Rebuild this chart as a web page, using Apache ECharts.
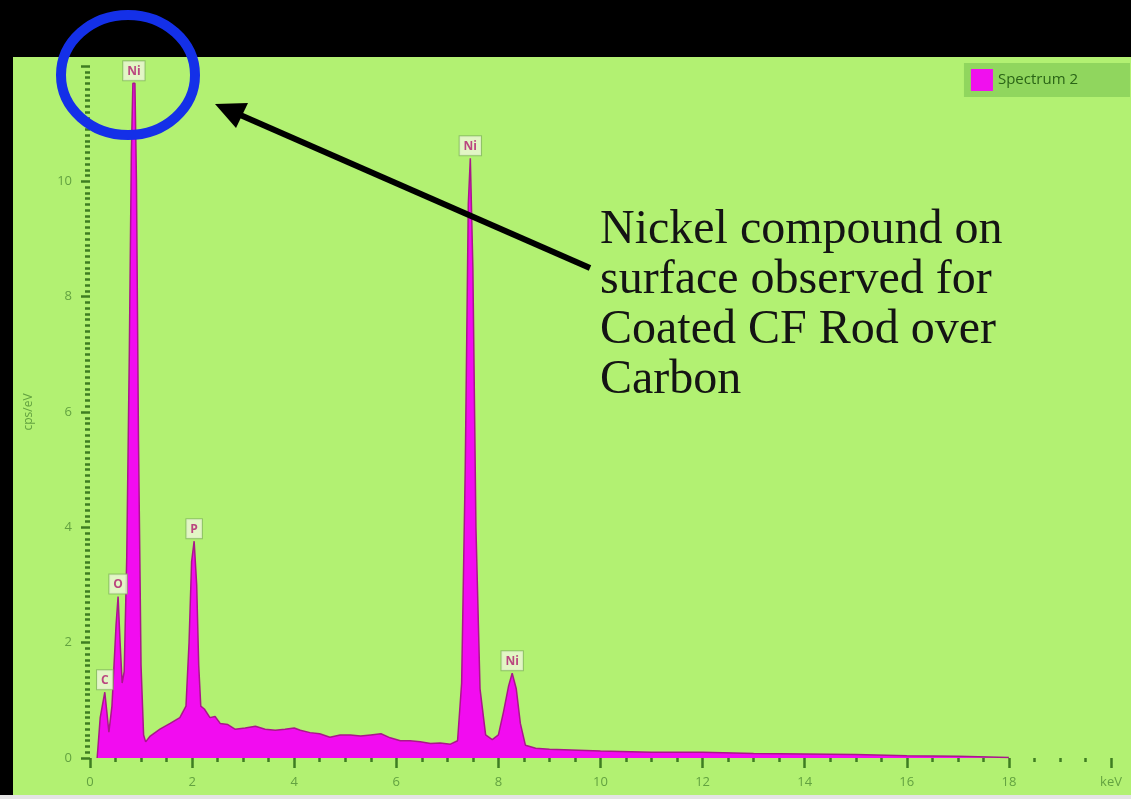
<!DOCTYPE html>
<html>
<head>
<meta charset="utf-8">
<script src="https://cdn.jsdelivr.net/npm/echarts@6/dist/echarts.min.js"></script>
<style>
  html, body { margin: 0; padding: 0; background: #e8e8e8; }
  #spectrum { width: 1131px; height: 799px; }
</style>
</head>
<body>
<div id="spectrum"></div>
<script>
// spectrum: energy (keV) and counts (cps/eV)
var energyKeV = [0.14, 0.2, 0.24, 0.29, 0.33, 0.37, 0.43, 0.51, 0.55, 0.59, 0.63, 0.67, 0.72, 0.77, 0.81, 0.84, 0.88, 0.91, 0.95, 1.0, 1.05, 1.09,
  1.18, 1.37, 1.57, 1.76, 1.88, 1.94, 1.99, 2.04, 2.09, 2.13, 2.17, 2.24, 2.35, 2.45, 2.55, 2.7, 2.84, 3.04, 3.24, 3.43,
  3.63, 3.82, 4.0, 4.12, 4.31, 4.5, 4.7, 4.9, 5.1, 5.3, 5.5, 5.7, 5.88, 6.08, 6.27, 6.47, 6.67, 6.86, 7.06, 7.2,
  7.28, 7.35, 7.41, 7.45, 7.5, 7.56, 7.64, 7.75, 7.88, 8.0, 8.1, 8.2, 8.27, 8.35, 8.43, 8.53, 8.73, 9.0, 10, 11, 12,
  13, 14, 15, 16, 17, 18];
var countsCps = [0, 0.7, 0.9, 1.14, 0.8, 0.45, 0.9, 2.3, 2.8, 2.0, 1.3, 1.5, 3.5, 7, 10.5, 11.7, 11.7, 10, 5.5, 1.6, 0.4, 0.28,
  0.38, 0.5, 0.6, 0.7, 0.9, 2, 3.4, 3.76, 3.0, 1.6, 0.9, 0.85, 0.7, 0.72, 0.6, 0.58, 0.5, 0.52, 0.55, 0.5,
  0.48, 0.5, 0.52, 0.48, 0.44, 0.42, 0.36, 0.4, 0.4, 0.38, 0.4, 0.42, 0.35, 0.3, 0.3, 0.28, 0.25, 0.26, 0.24, 0.3,
  1.3, 5, 9.6, 10.4, 8.5, 4, 1.2, 0.4, 0.32, 0.4, 0.8, 1.25, 1.47, 1.2, 0.6, 0.22, 0.17, 0.15, 0.12, 0.1, 0.1,
  0.08, 0.07, 0.06, 0.04, 0.03, 0.01];

// element labels on the peaks
var peakNames = ['C', 'O', 'Ni', 'P', 'Ni', 'Ni'];
var peakKeV = [0.29, 0.55, 0.86, 2.04, 7.45, 8.27];
var peakCps = [1.14, 2.8, 11.7, 3.76, 10.4, 1.47];

var xTicks = [0, 2, 4, 6, 8, 10, 12, 14, 16, 18, 20];
var yTicks = [0, 2, 4, 6, 8, 10, 12];

var note = ['Nickel compound on', 'surface observed for', 'Coated CF Rod over', 'Carbon'];

var spectrumData = [];
for (var i = 0; i < energyKeV.length; i++) {
  spectrumData.push([energyKeV[i], countsCps[i]]);
}
var peakData = [];
for (var j = 0; j < peakNames.length; j++) {
  peakData.push({ value: [peakKeV[j], peakCps[j]], name: peakNames[j] });
}

var axisGreen = '#3f7d22';
var labelGreen = '#63a240';

var myChart = echarts.init(document.getElementById('spectrum'));
myChart.setOption({
  backgroundColor: '#b2f172',
  animation: false,
  textStyle: { fontFamily: 'Open Sans' },
  grid: { left: 90, right: 20, top: 66, bottom: 41 },
  legend: {
    right: 1,
    top: 63,
    data: [{ name: 'Spectrum 2', icon: 'rect' }],
    backgroundColor: '#90d65e',
    padding: [6, 52, 6, 7],
    itemWidth: 22,
    itemHeight: 22,
    itemGap: 6,
    textStyle: { color: '#2a6416', fontSize: 15 }
  },
  xAxis: {
    type: 'value',
    min: xTicks[0],
    max: xTicks[xTicks.length - 1],
    interval: 2,
    offset: 3,
    axisLine: { show: false },
    axisTick: { show: true, length: 10, lineStyle: { color: axisGreen, width: 2.5 } },
    minorTick: { show: true, splitNumber: 4, length: 4, lineStyle: { color: axisGreen, width: 2.5 } },
    splitLine: { show: false },
    axisLabel: {
      color: labelGreen,
      fontSize: 13,
      margin: 15,
      formatter: function (v) { return v === 20 ? 'keV' : String(v); }
    }
  },
  yAxis: {
    type: 'value',
    min: yTicks[0],
    max: yTicks[yTicks.length - 1],
    interval: 2,
    offset: 3,
    name: 'cps/eV',
    nameLocation: 'middle',
    nameGap: 52,
    nameTextStyle: { color: labelGreen, fontSize: 12 },
    axisLine: { show: false },
    axisTick: { show: true, length: 9, lineStyle: { color: axisGreen, width: 2.5 } },
    minorTick: { show: true, splitNumber: 20, length: 5, lineStyle: { color: axisGreen, width: 2.5 } },
    splitLine: { show: false },
    axisLabel: {
      color: labelGreen,
      fontSize: 13,
      margin: 15,
      formatter: function (v) { return v === 12 ? '' : String(v); }
    }
  },
  series: [
    {
      name: 'Spectrum 2',
      type: 'line',
      data: spectrumData,
      showSymbol: false,
      itemStyle: { color: '#f010ee' },
      lineStyle: { color: '#a8188a', width: 1.5 },
      areaStyle: { color: '#f20cf0', opacity: 1 },
      z: 2
    },
    {
      name: 'peaks',
      type: 'scatter',
      data: peakData,
      symbolSize: 0,
      label: {
        show: true,
        position: 'top',
        distance: 3,
        formatter: '{b}',
        color: '#b01a6e',
        fontSize: 12,
        fontWeight: 'bold',
        backgroundColor: '#eef8da',
        borderColor: '#84b860',
        borderWidth: 1,
        padding: [4, 4, 3, 4]
      },
      z: 5
    }
  ],
  graphic: [
    { type: 'rect', shape: { x: 0, y: 0, width: 1131, height: 57 }, style: { fill: '#000' }, z: 10 },
    { type: 'rect', shape: { x: 0, y: 0, width: 13, height: 796 }, style: { fill: '#000' }, z: 10 },
    { type: 'rect', shape: { x: 0, y: 795, width: 1131, height: 4 }, style: { fill: '#e4e4e4' }, z: 10 },
    {
      type: 'ellipse',
      shape: { cx: 128, cy: 75, rx: 67, ry: 60 },
      style: { fill: null, stroke: '#1430e8', lineWidth: 10 },
      z: 20
    },
    {
      type: 'polyline',
      shape: { points: [[590, 268], [238, 114]] },
      style: { stroke: '#000', lineWidth: 6 },
      z: 20
    },
    {
      type: 'polygon',
      shape: { points: [[215, 104], [236, 128], [248, 103]] },
      style: { fill: '#000' },
      z: 20
    },
    {
      type: 'text',
      left: 600,
      top: 205,
      style: {
        text: note.join('\n'),
        font: '48px "Liberation Serif"',
        lineHeight: 50,
        fill: '#141414'
      },
      z: 20
    }
  ]
});
</script>
</body>
</html>
